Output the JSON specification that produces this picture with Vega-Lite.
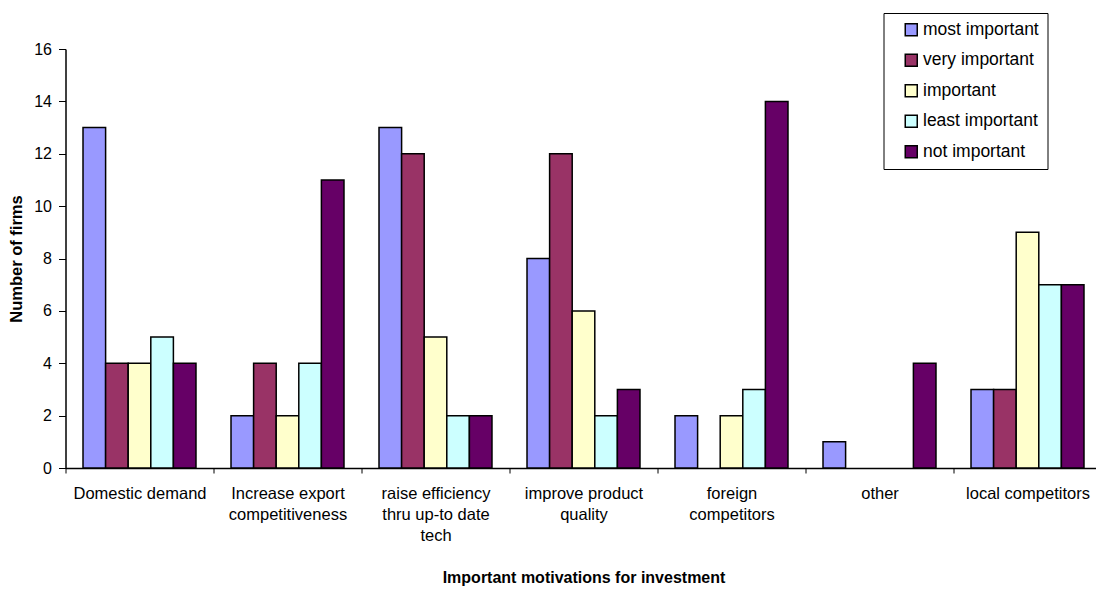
{
  "$schema": "https://vega.github.io/schema/vega-lite/v6.json",
  "width": 1036,
  "height": 419,
  "padding": {"left": 8.5, "top": 12, "right": 0, "bottom": 0},
  "autosize": {"type": "pad"},
  "background": "white",
  "config": {
    "view": {"stroke": null},
    "font": "Liberation Sans",
    "axis": {"domainColor": "black", "tickColor": "black", "labelColor": "black", "titleColor": "black", "grid": false}
  },
  "data": {
    "values": [
      {"motivation": "Domestic demand", "importance": "most important", "firms": 13},
      {"motivation": "Domestic demand", "importance": "very important", "firms": 4},
      {"motivation": "Domestic demand", "importance": "important", "firms": 4},
      {"motivation": "Domestic demand", "importance": "least important", "firms": 5},
      {"motivation": "Domestic demand", "importance": "not important", "firms": 4},
      {"motivation": "Increase export competitiveness", "importance": "most important", "firms": 2},
      {"motivation": "Increase export competitiveness", "importance": "very important", "firms": 4},
      {"motivation": "Increase export competitiveness", "importance": "important", "firms": 2},
      {"motivation": "Increase export competitiveness", "importance": "least important", "firms": 4},
      {"motivation": "Increase export competitiveness", "importance": "not important", "firms": 11},
      {"motivation": "raise efficiency thru up-to date tech", "importance": "most important", "firms": 13},
      {"motivation": "raise efficiency thru up-to date tech", "importance": "very important", "firms": 12},
      {"motivation": "raise efficiency thru up-to date tech", "importance": "important", "firms": 5},
      {"motivation": "raise efficiency thru up-to date tech", "importance": "least important", "firms": 2},
      {"motivation": "raise efficiency thru up-to date tech", "importance": "not important", "firms": 2},
      {"motivation": "improve product quality", "importance": "most important", "firms": 8},
      {"motivation": "improve product quality", "importance": "very important", "firms": 12},
      {"motivation": "improve product quality", "importance": "important", "firms": 6},
      {"motivation": "improve product quality", "importance": "least important", "firms": 2},
      {"motivation": "improve product quality", "importance": "not important", "firms": 3},
      {"motivation": "foreign competitors", "importance": "most important", "firms": 2},
      {"motivation": "foreign competitors", "importance": "very important", "firms": 0},
      {"motivation": "foreign competitors", "importance": "important", "firms": 2},
      {"motivation": "foreign competitors", "importance": "least important", "firms": 3},
      {"motivation": "foreign competitors", "importance": "not important", "firms": 14},
      {"motivation": "other", "importance": "most important", "firms": 1},
      {"motivation": "other", "importance": "very important", "firms": 0},
      {"motivation": "other", "importance": "important", "firms": 0},
      {"motivation": "other", "importance": "least important", "firms": 0},
      {"motivation": "other", "importance": "not important", "firms": 4},
      {"motivation": "local competitors", "importance": "most important", "firms": 3},
      {"motivation": "local competitors", "importance": "very important", "firms": 3},
      {"motivation": "local competitors", "importance": "important", "firms": 9},
      {"motivation": "local competitors", "importance": "least important", "firms": 7},
      {"motivation": "local competitors", "importance": "not important", "firms": 7}
    ]
  },
  "transform": [{"filter": "datum.firms > 0"}],
  "mark": {"type": "bar", "stroke": "black", "strokeWidth": 1.5},
  "encoding": {
    "x": {
      "field": "motivation",
      "type": "nominal",
      "sort": ["Domestic demand", "Increase export competitiveness", "raise efficiency thru up-to date tech", "improve product quality", "foreign competitors", "other", "local competitors"],
      "scale": {"paddingInner": 0, "paddingOuter": 0},
      "axis": {
        "title": "Important motivations for investment",
        "titleFontSize": 16,
        "titleFontWeight": "bold",
        "titlePadding": 26,
        "labelAngle": 0,
        "labelFontSize": 16.5,
        "labelPadding": 12,
        "labelLineHeight": 21,
        "labelLimit": 300,
        "labelExpr": "datum.value == 'Increase export competitiveness' ? ['Increase export', 'competitiveness'] : datum.value == 'raise efficiency thru up-to date tech' ? ['raise efficiency', 'thru up-to date', 'tech'] : datum.value == 'improve product quality' ? ['improve product', 'quality'] : datum.value == 'foreign competitors' ? ['foreign', 'competitors'] : datum.value",
        "tickBand": "extent",
        "tickSize": 5,
        "domainWidth": 1.5
      }
    },
    "xOffset": {
      "field": "importance",
      "type": "nominal",
      "sort": ["most important", "very important", "important", "least important", "not important"],
      "scale": {"paddingInner": 0, "paddingOuter": 0.775}
    },
    "y": {
      "field": "firms",
      "type": "quantitative",
      "scale": {"domain": [0, 16]},
      "axis": {
        "title": "Number of firms",
        "titleFontSize": 16.5,
        "titleFontWeight": "bold",
        "titlePadding": 9,
        "values": [0, 2, 4, 6, 8, 10, 12, 14, 16],
        "labelFontSize": 16,
        "labelPadding": 7,
        "tickSize": 7,
        "domainWidth": 1.5
      }
    },
    "fill": {
      "field": "importance",
      "type": "nominal",
      "sort": ["most important", "very important", "important", "least important", "not important"],
      "scale": {
        "domain": ["most important", "very important", "important", "least important", "not important"],
        "range": ["#9999FF", "#993366", "#FFFFCC", "#CCFFFF", "#660066"]
      },
      "legend": {
        "title": null,
        "orient": "none",
        "legendX": 818,
        "legendY": -36,
        "strokeColor": "black",
        "fillColor": "white",
        "padding": 8,
        "symbolOffset": 11,
        "symbolType": "square",
        "symbolSize": 144,
        "symbolStrokeColor": "black",
        "symbolStrokeWidth": 1.5,
        "symbolOpacity": 1,
        "labelFontSize": 17.5,
        "labelColor": "black",
        "labelOffset": 3,
        "rowPadding": 11.5,
        "labelLimit": 250
      }
    }
  }
}
